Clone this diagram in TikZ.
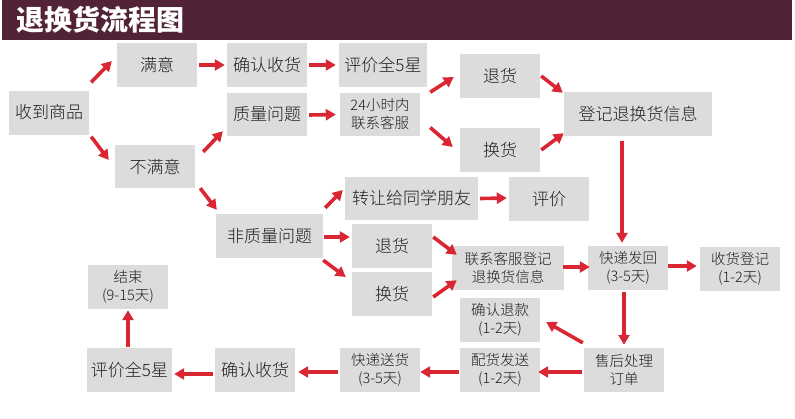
\documentclass[tikz,border=0pt]{standalone}
\usepackage{fontspec}
\setmainfont{Noto Sans CJK SC}
\newfontfamily\cjk{Noto Sans CJK SC Light}
\newfontfamily\cjkb{Noto Sans CJK SC}
\usetikzlibrary{arrows.meta}
\definecolor{hdr}{RGB}{82,35,54}
\definecolor{boxg}{RGB}{220,220,220}
\definecolor{arr}{RGB}{218,38,50}
\definecolor{txt}{RGB}{30,30,30}
\begin{document}
\begin{tikzpicture}[x=1pt,y=-1pt,
  box/.style={fill=boxg,draw=none,inner sep=0pt,minimum width=80pt,minimum height=44pt,text=txt,font=\cjk\fontsize{17}{20}\selectfont,align=center},
  sbox/.style={box,font=\cjk\fontsize{14.5}{18}\selectfont},
  arrowline/.style={draw=arr,line width=3.6pt,-{Triangle[length=10pt,width=11pt]}}
]
\useasboundingbox (0,0) rectangle (795,418);
\fill[white] (0,0) rectangle (795,418);
\fill[hdr] (2,0) rectangle (792,40);
\node[text=white,font=\cjkb\bfseries\fontsize{28}{30}\selectfont,anchor=west,inner sep=0pt] (title) at (16,20) {退换货流程图};

\node[box] (recv) at (49,112.5) {收到商品};
\node[box] (sat) at (157,65) {满意};
\node[box] (conf1) at (267,65) {确认收货};
\node[box,minimum width=88pt] (eval1) at (383,65) {评价全5星};
\node[box,minimum height=43pt] (qual) at (267,114.5) {质量问题};
\node[sbox,minimum height=43pt] (cs24) at (380,114) {24小时内\\联系客服};
\node[box,minimum height=43pt] (unsat) at (155,166.5) {不满意};
\node[box] (ret1) at (500,76) {退货};
\node[box] (exc1) at (500,150) {换货};
\node[box,minimum width=148pt] (reg) at (638,114) {登记退换货信息};
\node[box,minimum width=133pt,minimum height=43pt] (transfer) at (411.5,198.5) {转让给同学朋友};
\node[box] (eval2) at (549,199) {评价};
\node[box,minimum width=107pt] (nonq) at (269.5,236) {非质量问题};
\node[box] (ret2) at (392,246) {退货};
\node[box] (exc2) at (392,294) {换货};
\node[sbox,minimum width=112pt] (csreg) at (508,268) {联系客服登记\\退换货信息};
\node[sbox] (ship) at (628,268) {快递发回\\(3-5天)};
\node[sbox] (recvreg) at (740,269) {收货登记\\(1-2天)};
\node[sbox] (refund) at (500,320) {确认退款\\(1-2天)};
\node[sbox] (dispatch) at (500,370) {配货发送\\(1-2天)};
\node[sbox] (after) at (624,370) {售后处理\\订单};
\node[sbox] (deliver) at (380,370) {快递送货\\(3-5天)};
\node[box] (conf2) at (255,370) {确认收货};
\node[box,minimum width=85pt] (eval3) at (129.5,370) {评价全5星};
\node[sbox] (end) at (128,287) {结束\\(9-15天)};

\draw[arrowline] ([shift={(2,-8)}]recv.north east) -- ([shift={(-5,-4)}]sat.west);
\draw[arrowline] ([shift={(2,2)}]recv.south east) -- ([shift={(-6,-6.5)}]unsat.west);
\draw[arrowline] ([shift={(2,0)}]sat.east) -- ([shift={(-2,0)}]conf1.west);
\draw[arrowline] ([shift={(2,0)}]conf1.east) -- ([shift={(-3,0)}]eval1.west);
\draw[arrowline] ([shift={(2,0.5)}]qual.east) -- ([shift={(-4,0.5)}]cs24.west);
\draw[arrowline] ([shift={(8,7)}]unsat.north east) -- ([shift={(-4,-5)}]qual.south west);
\draw[arrowline] ([shift={(5,0)}]unsat.south east) -- ([shift={(1,-4)}]nonq.north west);
\draw[arrowline] ([shift={(2,-6)}]nonq.north east) -- ([shift={(-2,-8.5)}]transfer.west);
\draw[arrowline] ([shift={(2,0)}]transfer.east) -- ([shift={(-2,-1)}]eval2.west);
\draw[arrowline] ([shift={(1,1)}]nonq.east) -- ([shift={(-2,-9)}]ret2.west);
\draw[arrowline] ([shift={(0,2)}]nonq.south east) -- ([shift={(-6,-17)}]exc2.west);
\draw[arrowline] ([shift={(3,5)}]eval1.south east) -- ([shift={(-6,1)}]ret1.west);
\draw[arrowline] ([shift={(10,13.5)}]cs24.east) -- ([shift={(-7,-3)}]exc1.west);
\draw[arrowline] ([shift={(1,0)}]ret1.east) -- ([shift={(-1,1)}]reg.north west);
\draw[arrowline] ([shift={(1,0)}]exc1.east) -- ([shift={(0,-3)}]reg.south west);
\draw[arrowline] ([shift={(-16,5)}]reg.south) -- ([shift={(-6,-3)}]ship.north);
\draw[arrowline] ([shift={(1,-9)}]ret2.east) -- ([shift={(5,9)}]csreg.north west);
\draw[arrowline] ([shift={(1,3)}]exc2.east) -- ([shift={(5,-10)}]csreg.south west);
\draw[arrowline] ([shift={(-1,-1)}]csreg.east) -- ([shift={(2,-1)}]ship.west);
\draw[arrowline] ([shift={(0,-2)}]ship.east) -- ([shift={(-3,-3)}]recvreg.west);
\draw[arrowline] ([shift={(-4,2)}]ship.south) -- ([shift={(0,-3)}]after.north);
\draw[arrowline] ([shift={(-1,-5)}]after.north west) -- ([shift={(6,2)}]refund.east);
\draw[arrowline] ([shift={(-2,2)}]after.west) -- ([shift={(-2,2)}]dispatch.east);
\draw[arrowline] ([shift={(-1,2)}]dispatch.west) -- ([shift={(0,2)}]deliver.east);
\draw[arrowline] ([shift={(-2,2)}]deliver.west) -- ([shift={(3,2)}]conf2.east);
\draw[arrowline] ([shift={(-2,4)}]conf2.west) -- ([shift={(2,4)}]eval3.east);
\draw[arrowline] ([shift={(-1.5,-1)}]eval3.north) -- ([shift={(0,1)}]end.south);
\end{tikzpicture}
\end{document}
